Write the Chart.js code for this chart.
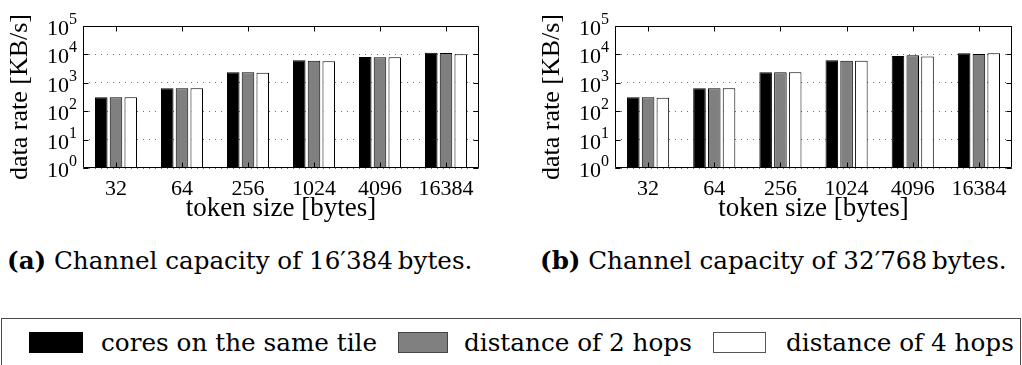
<!DOCTYPE html>
<html>
<head>
<meta charset="utf-8">
<script src="https://cdn.jsdelivr.net/npm/chart.js@4.4.1/dist/chart.umd.min.js"></script>
<style>
  html, body { margin: 0; padding: 0; background: #fff; }
  body { width: 1022px; height: 365px; position: relative; overflow: hidden; }
  canvas.panel { position: absolute; top: 0; }
  #panelA { left: 0; }
  #panelB { left: 532px; }
  .caption { position: absolute; top: 249px; font-family: "DejaVu Serif", serif; font-size: 24.6px; line-height: 1; white-space: nowrap; color: #000; }
  #capA { left: 7px; }
  #capB { left: 540px; }
  #legend { position: absolute; left: 1px; top: 318px; width: 1020px; height: 60px; border: 1px solid #4a4a4a; box-sizing: border-box; }
  .swatch { position: absolute; top: 13px; height: 21px; box-sizing: border-box; }
  .ltext { position: absolute; top: 12px; font-family: "DejaVu Serif", serif; font-size: 24.7px; line-height: 1; white-space: nowrap; }
</style>
</head>
<body>
<canvas id="panelA" class="panel" width="490" height="232"></canvas>
<canvas id="panelB" class="panel" width="490" height="232"></canvas>
<div id="capA" class="caption"></div>
<div id="capB" class="caption"></div>
<div id="legend"></div>
<script>
// Token sizes on the x axis (bytes)
const tokenSizes = ['32', '64', '256', '1024', '4096', '16384'];

// Series shown in both panels
const seriesNames = ['cores on the same tile', 'distance of 2 hops', 'distance of 4 hops'];
const seriesFills = ['#000000', '#808080', '#ffffff'];

// Data rate in KB/s, channel capacity of 16'384 bytes
const rateA_sameTile = [310, 640, 2340, 6200, 8100, 11500];
const rateA_twoHops  = [310, 640, 2340, 6000, 7900, 11200];
const rateA_fourHops = [310, 640, 2270, 5700, 7900, 10100];

// Data rate in KB/s, channel capacity of 32'768 bytes
const rateB_sameTile = [310, 640, 2340, 6200, 8700, 11000];
const rateB_twoHops  = [310, 640, 2340, 6000, 9300, 10300];
const rateB_fourHops = [300, 640, 2340, 6000, 8500, 11000];

// Decade ticks of the logarithmic y axis
const decadeTicks = [1, 10, 100, 1000, 10000, 100000];

// Caption texts
const captionA = ['(a)', 'Channel capacity of 16\u2032384\u2009bytes.'];
const captionB = ['(b)', 'Channel capacity of 32\u2032768\u2009bytes.'];

const SERIF = '"Liberation Serif", "Times New Roman", serif';

// Box around the plot area, inward tick marks and 10^n tick labels
const framePlugin = {
  id: 'matlabFrame',
  afterDatasetsDraw(chart) {
    const { ctx, chartArea: a, scales: { x, y } } = chart;
    const L = Math.round(a.left) + 0.5, R = Math.round(a.right) - 0.5;
    const T = Math.round(a.top) + 0.5, B = Math.round(a.bottom) - 0.5;
    const tick = 5;
    ctx.save();
    ctx.strokeStyle = '#000';
    ctx.lineWidth = 1;
    ctx.beginPath();
    ctx.rect(L, T, R - L, B - T);
    decadeTicks.forEach(v => {
      const py = Math.round(y.getPixelForValue(v)) + 0.5;
      ctx.moveTo(L, py); ctx.lineTo(L + tick, py);
      ctx.moveTo(R, py); ctx.lineTo(R - tick, py);
    });
    tokenSizes.forEach((c, i) => {
      const px = Math.round(x.getPixelForValue(i)) + 0.5;
      ctx.moveTo(px, T); ctx.lineTo(px, T + tick);
      ctx.moveTo(px, B); ctx.lineTo(px, B - tick);
    });
    ctx.stroke();

    // y tick labels as 10 with a raised exponent
    ctx.fillStyle = '#000';
    ctx.textAlign = 'right';
    ctx.textBaseline = 'alphabetic';
    decadeTicks.forEach(v => {
      const py = y.getPixelForValue(v);
      const exp = String(Math.round(Math.log10(v)));
      ctx.font = '16px ' + SERIF;
      ctx.fillText(exp, a.left - 6, py - 2);
      const ew = ctx.measureText(exp).width;
      ctx.font = '22px ' + SERIF;
      ctx.fillText('10', a.left - 6 - ew, py + 9);
    });
    ctx.restore();
  }
};

function makeChart(canvasId, rows, rightPad) {
  const datasets = rows.map((vals, i) => ({
    label: seriesNames[i],
    data: vals,
    backgroundColor: seriesFills[i],
    borderColor: '#000',
    borderWidth: 1,
    categoryPercentage: 0.67,
    barPercentage: 0.85
  }));
  return new Chart(document.getElementById(canvasId), {
    type: 'bar',
    data: { labels: tokenSizes, datasets },
    options: {
      responsive: false,
      animation: false,
      devicePixelRatio: 1,
      layout: { padding: { top: 26, right: rightPad, bottom: 0, left: 0 } },
      plugins: { legend: { display: false }, tooltip: { enabled: false }, title: { display: false } },
      scales: {
        x: {
          type: 'category',
          grid: { display: false, drawTicks: false },
          border: { display: false },
          ticks: { color: '#000', font: { family: SERIF, size: 22 }, padding: 8, maxRotation: 0, autoSkip: false },
          title: { display: true, text: 'token size [bytes]', color: '#000', font: { family: SERIF, size: 27 }, padding: { top: 0, bottom: 7 } },
          afterFit: s => { s.height = 64; }
        },
        y: {
          type: 'logarithmic',
          min: 1,
          max: 100000,
          afterBuildTicks: s => { s.ticks = decadeTicks.map(v => ({ value: v })); },
          grid: { color: 'rgba(0,0,0,0.55)', lineWidth: 1, drawTicks: false },
          border: { display: false, dash: [1, 5] },
          ticks: { display: false },
          title: { display: true, text: 'data rate [KB/s]', color: '#000', font: { family: SERIF, size: 26 }, padding: { top: 5, bottom: 0 } },
          afterFit: s => { s.width = 83; }
        }
      }
    },
    plugins: [framePlugin]
  });
}

makeChart('panelA', [rateA_sameTile, rateA_twoHops, rateA_fourHops], 11);
makeChart('panelB', [rateB_sameTile, rateB_twoHops, rateB_fourHops], 10);

// Captions under each panel
function fillCaption(id, parts) {
  const el = document.getElementById(id);
  const b = document.createElement('b');
  b.textContent = parts[0];
  el.appendChild(b);
  el.appendChild(document.createTextNode(' ' + parts[1]));
}
fillCaption('capA', captionA);
fillCaption('capB', captionB);

// Shared legend below both panels
const swatchLeft = [27, 396, 711];
const swatchWidth = [54, 50, 53];
const textLeft = [99, 462, 784];
const swatchBorders = ['#000', '#444', '#555'];
const legend = document.getElementById('legend');
seriesNames.forEach((name, i) => {
  const sw = document.createElement('div');
  sw.className = 'swatch';
  sw.style.left = swatchLeft[i] + 'px';
  sw.style.width = swatchWidth[i] + 'px';
  sw.style.background = seriesFills[i];
  sw.style.border = '1px solid ' + swatchBorders[i];
  legend.appendChild(sw);
  const tx = document.createElement('div');
  tx.className = 'ltext';
  tx.style.left = textLeft[i] + 'px';
  tx.textContent = name;
  legend.appendChild(tx);
});
</script>
</body>
</html>
